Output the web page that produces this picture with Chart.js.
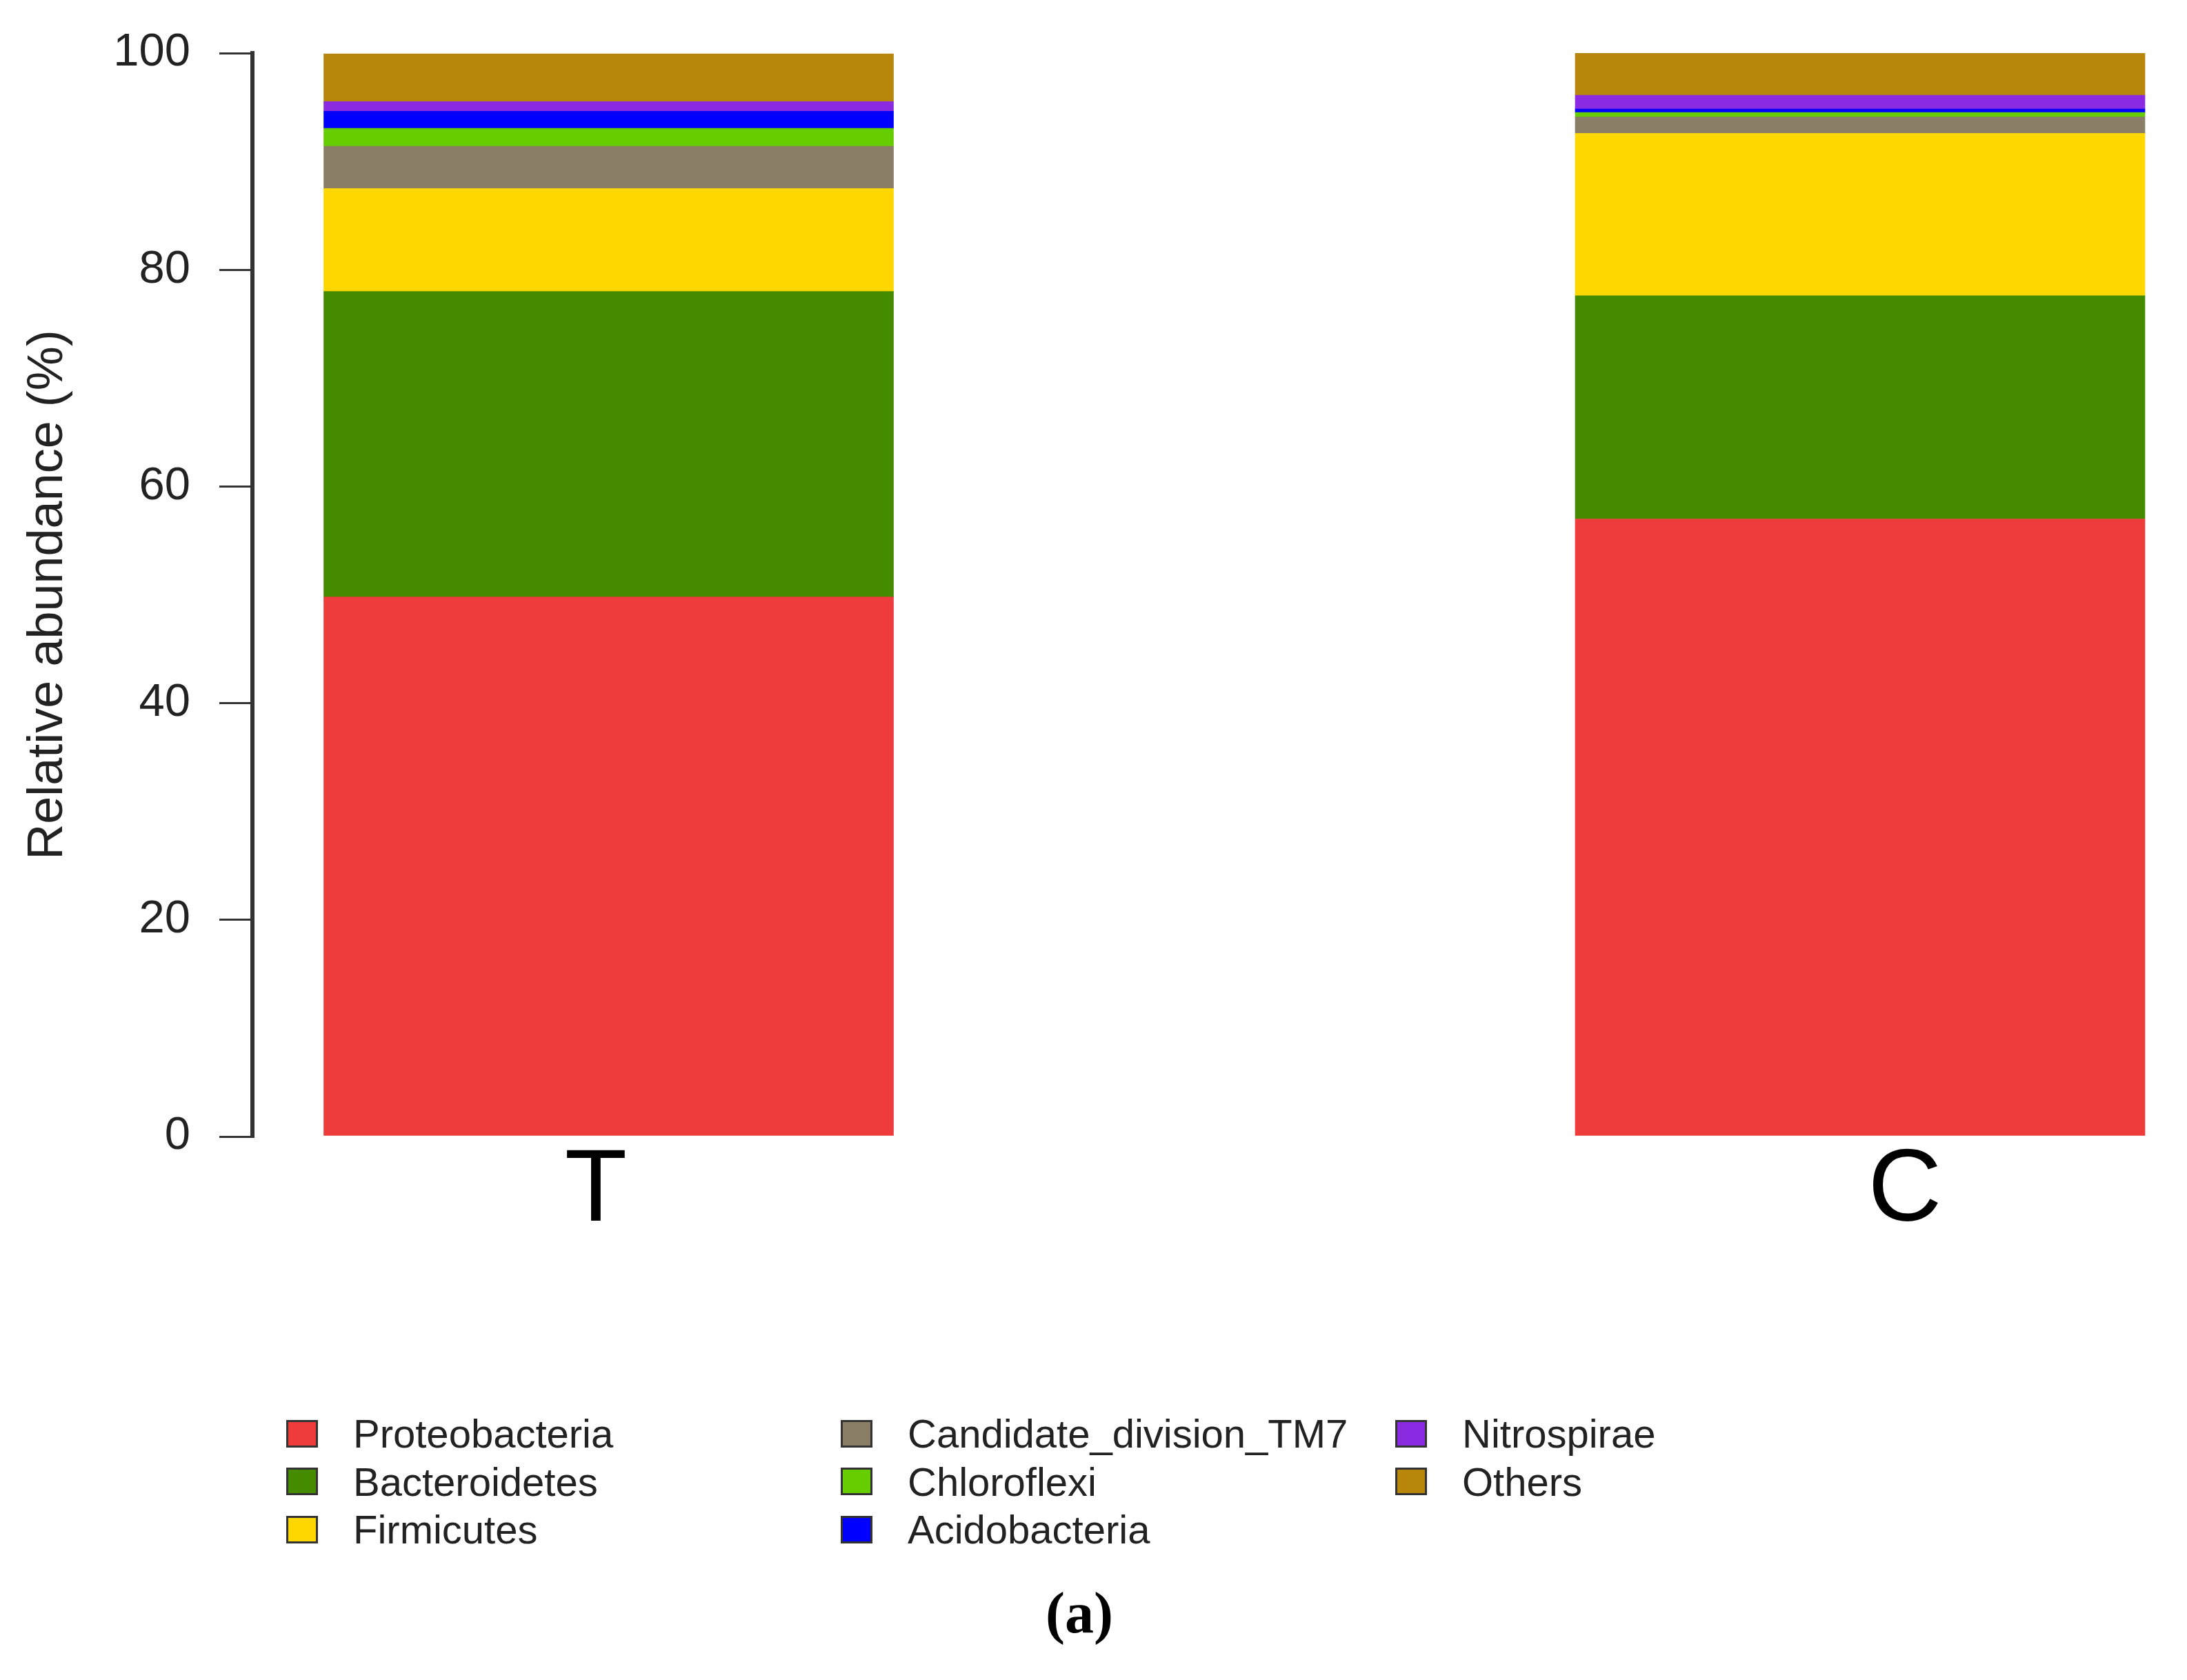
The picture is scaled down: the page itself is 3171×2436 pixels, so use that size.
<!DOCTYPE html>
<html>
<head>
<meta charset="utf-8">
<script src="https://cdn.jsdelivr.net/npm/chart.js@4.4.1/dist/chart.umd.min.js"></script>
<style>
  html, body { margin: 0; padding: 0; background: #fff; }
  #wrap { position: relative; width: 3171px; height: 2436px; overflow: hidden; }
  #chart { position: absolute; left: 0; top: 0; }
  #legend {
    position: absolute; left: 415px; top: 2044px;
    display: grid; grid-auto-flow: column;
    grid-template-rows: repeat(3, 69.5px);
    grid-template-columns: repeat(3, 804px);
    font-family: "Liberation Sans", Arial, sans-serif; font-size: 58px; color: #222;
  }
  .item { display: flex; align-items: center; }
  .box { width: 40px; height: 34px; border: 3px solid #333; margin-right: 51px; }
  #caption {
    position: absolute; left: 1465px; width: 200px; top: 2290px; text-align: center;
    font-family: "Liberation Serif", "Times New Roman", serif; font-weight: bold; font-size: 84px; color: #000;
  }
</style>
</head>
<body>
<div id="wrap">
  <canvas id="chart" width="3171" height="2436"></canvas>
  <div id="legend"></div>
  <div id="caption">(a)</div>
</div>
<script>
// samples (x categories)
const samples = ['T', 'C'];

// phyla, bottom to top of each stack
const phyla = ['Proteobacteria', 'Bacteroidetes', 'Firmicutes', 'Candidate_division_TM7',
               'Chloroflexi', 'Acidobacteria', 'Nitrospirae', 'Others'];
const colors = ['#EE3B3B', '#458B00', '#FFD700', '#8B7E66',
                '#66CD00', '#0000FF', '#8A2BE2', '#B8860B'];

// relative abundance (%) for T and C
const proteobacteria = [49.8, 57.0];
const bacteroidetes  = [28.2, 20.6];
const firmicutes     = [9.5, 15.0];
const tm7            = [3.9, 1.5];
const chloroflexi    = [1.65, 0.42];
const acidobacteria  = [1.58, 0.32];
const nitrospirae    = [0.9, 1.27];
const others         = [4.4, 3.9];

const yTicks = [0, 20, 40, 60, 80, 100];

const values = [proteobacteria, bacteroidetes, firmicutes, tm7,
                chloroflexi, acidobacteria, nitrospirae, others];

const datasets = phyla.map((name, i) => ({
    label: name,
    data: values[i].map((v, j) => ({x: j, y: v})),
    backgroundColor: colors[i],
    borderWidth: 0,
    barThickness: 826,
}));

const font = "'Liberation Sans', Arial, sans-serif";

// the sample letters sit a little off the bar centres in the original
const labelShift = [-0.0102, 0.0358];

const chart = new Chart(document.getElementById('chart'), {
    type: 'bar',
    data: { datasets },
    options: {
        responsive: false,
        animation: false,
        devicePixelRatio: 1,
        layout: { padding: { top: 77, left: 0, right: 30, bottom: 538 } },
        plugins: {
            legend: { display: false },
            tooltip: { enabled: false }
        },
        scales: {
            x: {
                type: 'linear',
                stacked: true,
                offset: false,
                min: -0.28465,
                max: 1.2447,
                border: { display: false },
                grid: { display: false, offset: false },
                afterBuildTicks: (scale) => {
                    scale.ticks = samples.map((_, i) => ({value: i + labelShift[i]}));
                },
                afterFit: (scale) => { scale.height = 250; },
                ticks: {
                    autoSkip: false,
                    maxRotation: 0,
                    padding: -16,
                    color: '#000',
                    font: { family: font, size: 148 },
                    callback: (v, i) => samples[i] ?? ''
                }
            },
            y: {
                stacked: true,
                min: 0,
                max: 100,
                afterBuildTicks: (scale) => {
                    scale.ticks = yTicks.map(v => ({value: v}));
                },
                afterFit: (scale) => {
                    scale.width = 366;
                    scale.paddingTop = 0;
                    scale.paddingBottom = 0;
                },
                border: { display: true, color: '#333', width: 6 },
                grid: {
                    drawOnChartArea: false,
                    drawTicks: true,
                    tickLength: 48,
                    color: '#333',
                    lineWidth: 3
                },
                ticks: {
                    padding: 42,
                    color: '#222',
                    font: { family: font, size: 67 }
                },
                title: {
                    display: true,
                    text: 'Relative abundance (%)',
                    color: '#222',
                    font: { family: font, size: 72 },
                    padding: { top: 27, bottom: 0 }
                }
            }
        }
    }
});

// legend laid out column by column like the original
const legend = document.getElementById('legend');
chart.data.datasets.forEach(ds => {
    const item = document.createElement('div');
    item.className = 'item';
    const box = document.createElement('span');
    box.className = 'box';
    box.style.background = ds.backgroundColor;
    const txt = document.createElement('span');
    txt.textContent = ds.label;
    item.appendChild(box);
    item.appendChild(txt);
    legend.appendChild(item);
});
</script>
</body>
</html>
